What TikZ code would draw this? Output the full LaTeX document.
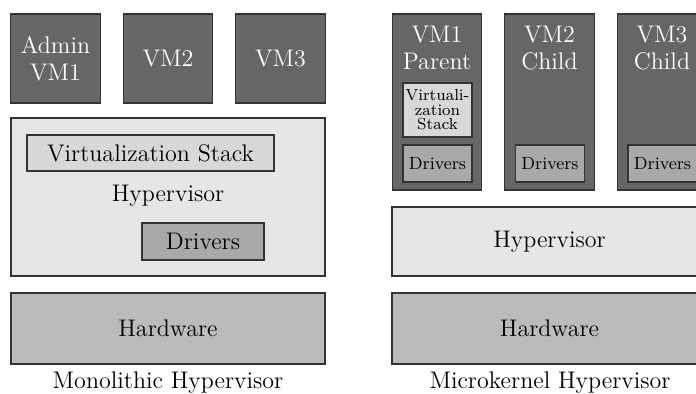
\documentclass[tikz,border=0pt]{standalone}
\usepackage{tikz}

\definecolor{vmgray}{HTML}{666666}
\definecolor{hvgray}{HTML}{E6E6E8}
\definecolor{vsgray}{HTML}{D8D8DA}
\definecolor{drvgray}{HTML}{A9A9AB}
\definecolor{hwgray}{HTML}{BBBBBD}
\definecolor{edge}{HTML}{333333}

\begin{document}
\begin{tikzpicture}[x = 0.5pt, y = -0.5pt, font = \fontsize{12}{13.5}\selectfont,
	box/.style = {draw = edge, line width = 0.7pt, inner sep = 0pt, align = center, text = black},
	vm/.style = {box, fill = vmgray, text = white, minimum width = 44.75pt},
	layer/.style = {box, minimum width = 157pt},
	drv/.style = {box, fill = drvgray, minimum height = 18.5pt},
	small/.style = {font = \fontsize{8.8}{9}\selectfont}]

	% Canvas
	
	\path [use as bounding box, clip] (0, 0) rectangle (696, 394);
	
	% Monolithic hypervisor
	
	\node [vm, minimum height = 44.5pt] (adminvm) at (55.5, 58.5) {Admin\\VM1};
	\node [vm, minimum height = 44.5pt] (monovmtwo) at (168, 58.5) {VM2};
	\node [vm, minimum height = 44.5pt] (monovmthree) at (280.5, 58.5) {VM3};
	
	\node [layer, fill = hvgray, minimum height = 79pt] (monohyper) at (168, 197) {};
	\node [box, fill = vsgray, minimum width = 123.5pt, minimum height = 18pt] (monostack) at (150.5, 153) {Virtualization Stack};
	\node (monohyperlabel) at (168, 196) {Hypervisor};
	\node [drv, minimum width = 61pt] (monodrivers) at (203, 241.5) {Drivers};
	
	\node [layer, fill = hwgray, minimum height = 35.5pt] (monohw) at (168, 328.5) {Hardware};
	\node (monocaption) at (168, 383) {Monolithic Hypervisor};
	
	% Microkernel hypervisor
	
	\foreach \x/\name/\top/\bottom in {437/microvmone/VM1/Parent, 549.5/microvmtwo/VM2/Child, 662/microvmthree/VM3/Child}
	{
		\node [vm, minimum height = 88pt] (\name) at (\x, 102) {};
		\node [text = white, align = center] (\name label) at (\x, 48) {\top\\\bottom};
		\node [drv, small, minimum width = 34.5pt] (\name drivers) at (\x + 0.5, 163.5) {Drivers};
	}
	
	\node [box, fill = vsgray, minimum width = 34.5pt, minimum height = 27pt, font = \fontsize{8}{7.3}\selectfont] (microstack) at (437.5, 110) {Virtuali-\\zation\\Stack};
	
	\node [layer, fill = hvgray, minimum width = 157.5pt, minimum height = 34.5pt] (microhyper) at (549.5, 241.5) {Hypervisor};
	\node [layer, fill = hwgray, minimum width = 157.5pt, minimum height = 35.5pt] (microhw) at (549.5, 328.5) {Hardware};
	\node (microcaption) at (550, 383) {Microkernel Hypervisor};
	
\end{tikzpicture}
\end{document}
